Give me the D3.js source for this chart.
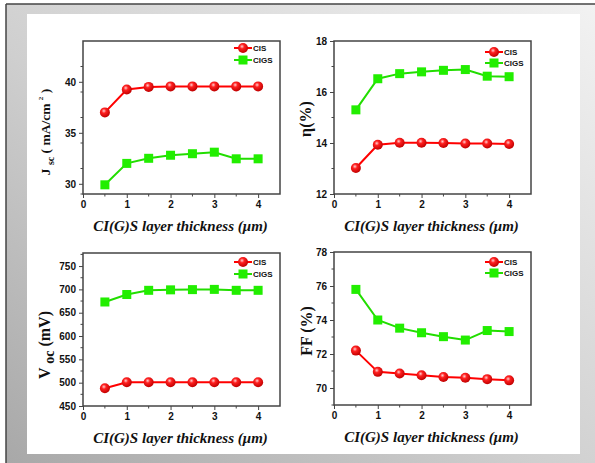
<!DOCTYPE html>
<html lang="en">
<head>
<meta charset="UTF-8">
<title>CIS / CIGS layer thickness</title>
<script src="https://cdnjs.cloudflare.com/ajax/libs/d3/7.8.5/d3.min.js"></script>
<style>
    body { margin: 0; padding: 0; background: #fff; }
    svg { display: block; }
    .tick text { font-family: Arial, "Liberation Sans", sans-serif; font-weight: bold; font-size: 10px; fill: #111; }
    .axis path, .axis line { stroke: #444; }
    .xtitle { font-family: "Liberation Serif", "DejaVu Serif", serif; font-weight: bold; font-style: italic; font-size: 15px; fill: #111; }
    .ytitle { font-family: "Liberation Serif", "DejaVu Serif", serif; font-weight: bold; font-size: 16px; fill: #111; }
    .legend { font-family: Arial, "Liberation Sans", sans-serif; font-weight: bold; font-size: 8px; fill: #111; }
</style>
</head>
<body>
<div id="chart"></div>
<script>
// layer thickness (um)
const thickness = [0.5, 1, 1.5, 2, 2.5, 3, 3.5, 4];
const seriesNames = ["CIS", "CIGS"];

// Jsc (mA/cm2)
const jscCIS  = [37.0, 39.25, 39.5, 39.55, 39.55, 39.55, 39.55, 39.55];
const jscCIGS = [29.9, 32.0, 32.5, 32.8, 32.95, 33.1, 32.45, 32.45];
// efficiency (%)
const etaCIS  = [13.02, 13.93, 14.01, 14.01, 14.0, 13.98, 13.98, 13.96];
const etaCIGS = [15.3, 16.52, 16.72, 16.79, 16.85, 16.88, 16.62, 16.6];
// Voc (mV)
const vocCIS  = [488, 501, 501, 501, 501, 501, 501, 501];
const vocCIGS = [673, 689, 698, 699, 699.5, 700, 698, 698];
// FF (%)
const ffCIS  = [72.2, 70.95, 70.85, 70.75, 70.65, 70.6, 70.52, 70.45];
const ffCIGS = [75.8, 74.0, 73.52, 73.25, 73.02, 72.82, 73.38, 73.32];

const xTicks = [0, 1, 2, 3, 4];
const xTitle = "CI(G)S layer thickness (\u03bcm)";

const W = 595, H = 463;
const svg = d3.select("#chart").append("svg").attr("width", W).attr("height", H);

// background frame
const defs = svg.append("defs");
const bg = defs.append("linearGradient").attr("id", "bg")
    .attr("x1", "0%").attr("y1", "100%").attr("x2", "100%").attr("y2", "0%");
bg.append("stop").attr("offset", "0%").attr("stop-color", "#a8a8a8");
bg.append("stop").attr("offset", "45%").attr("stop-color", "#cfcfcf");
bg.append("stop").attr("offset", "100%").attr("stop-color", "#f2f2f2");
const ball = defs.append("radialGradient").attr("id", "ball")
    .attr("cx", "40%").attr("cy", "35%").attr("r", "65%");
ball.append("stop").attr("offset", "0%").attr("stop-color", "#ffd0d0");
ball.append("stop").attr("offset", "35%").attr("stop-color", "#ff2020");
ball.append("stop").attr("offset", "100%").attr("stop-color", "#c00000");

svg.append("rect").attr("x", 0).attr("y", 0).attr("width", W).attr("height", H).attr("fill", "#fff");
svg.append("rect").attr("x", 6).attr("y", 4).attr("width", W - 6).attr("height", H - 4).attr("fill", "url(#bg)");
svg.append("line").attr("x1", 6).attr("y1", 4).attr("x2", W).attr("y2", 4).attr("stroke", "#444").attr("stroke-width", 1.5);
svg.append("line").attr("x1", 6).attr("y1", 4).attr("x2", 6).attr("y2", H).attr("stroke", "#444").attr("stroke-width", 1.5);
svg.append("rect").attr("x", 27).attr("y", 14).attr("width", 553).attr("height", 440).attr("fill", "#fff");

const panels = [
    { left: 83, top: 41, yDomain: [29, 44], yTicks: [30, 35, 40], yMinor: 2.5,
      cis: jscCIS, cigs: jscCIGS, ylabel: "jsc", ylabelX: 50, ylabelY: 132, legDy: [7, 19] },
    { left: 334, top: 41, yDomain: [12, 18], yTicks: [12, 14, 16, 18], yMinor: 1,
      cis: etaCIS, cigs: etaCIGS, ylabel: "eta", ylabelX: 311, ylabelY: 119, legDy: [11, 22] },
    { left: 83, top: 253, yDomain: [450, 778], yTicks: [450, 500, 550, 600, 650, 700, 750], yMinor: 25,
      cis: vocCIS, cigs: vocCIGS, ylabel: "voc", ylabelX: 50, ylabelY: 345, legDy: [9, 21] },
    { left: 334, top: 252, yDomain: [69, 78], yTicks: [70, 72, 74, 76, 78], yMinor: 1,
      cis: ffCIS, cigs: ffCIGS, ylabel: "ff", ylabelX: 312, ylabelY: 331, legDy: [10, 21] }
];
const pw = 197, ph = 153;

panels.forEach(p => {
    const g = svg.append("g").attr("transform", `translate(${p.left},${p.top})`);
    const x = d3.scaleLinear().domain([0, 4.5]).range([0, pw]);
    const y = d3.scaleLinear().domain(p.yDomain).range([ph, 0]);

    // minor ticks
    const xMinor = d3.range(0.5, 4.5, 1);
    g.append("g").selectAll("line").data(xMinor).join("line")
        .attr("x1", d => x(d)).attr("x2", d => x(d)).attr("y1", ph).attr("y2", ph + 2.5)
        .attr("stroke", "#444");
    const yMinor = d3.range(p.yDomain[0], p.yDomain[1], p.yMinor)
        .filter(v => !p.yTicks.some(t => Math.abs(t - v) < 1e-6));
    g.append("g").selectAll("line").data(yMinor).join("line")
        .attr("x1", -2.5).attr("x2", 0).attr("y1", d => y(d)).attr("y2", d => y(d))
        .attr("stroke", "#444");

    g.append("g").attr("class", "axis").attr("transform", `translate(0,${ph})`)
        .call(d3.axisBottom(x).tickValues(xTicks).tickFormat(d3.format("d"))
            .tickSize(4).tickSizeOuter(0).tickPadding(3))
        .call(a => a.select(".domain").remove());
    g.append("g").attr("class", "axis")
        .call(d3.axisLeft(y).tickValues(p.yTicks).tickFormat(d3.format("d"))
            .tickSize(4).tickSizeOuter(0).tickPadding(3))
        .call(a => a.select(".domain").remove());

    g.append("rect").attr("width", pw).attr("height", ph)
        .attr("fill", "none").attr("stroke", "#444").attr("stroke-width", 1.5);

    const line = d3.line().x((d, i) => x(thickness[i])).y(d => y(d));
    g.append("path").datum(p.cis).attr("d", line)
        .attr("fill", "none").attr("stroke", "#ff0000").attr("stroke-width", 2);
    g.append("path").datum(p.cigs).attr("d", line)
        .attr("fill", "none").attr("stroke", "#22dd00").attr("stroke-width", 2);

    g.append("g").selectAll("rect").data(p.cigs).join("rect")
        .attr("x", (d, i) => x(thickness[i]) - 4.5).attr("y", d => y(d) - 4.5)
        .attr("width", 9).attr("height", 9).attr("fill", "#22ee00");
    g.append("g").selectAll("circle").data(p.cis).join("circle")
        .attr("cx", (d, i) => x(thickness[i])).attr("cy", d => y(d)).attr("r", 5)
        .attr("fill", "url(#ball)");

    // legend
    const lx = pw - 46;
    seriesNames.forEach((name, k) => {
        const ly = p.legDy[k];
        const color = k === 0 ? "#ff0000" : "#22dd00";
        g.append("line").attr("x1", lx).attr("x2", lx + 18).attr("y1", ly).attr("y2", ly)
            .attr("stroke", color).attr("stroke-width", 2);
        if (k === 0) {
            g.append("circle").attr("cx", lx + 9).attr("cy", ly).attr("r", 5).attr("fill", "url(#ball)");
        } else {
            g.append("rect").attr("x", lx + 4.5).attr("y", ly - 4.5).attr("width", 9).attr("height", 9)
                .attr("fill", "#22ee00");
        }
        g.append("text").attr("class", "legend").attr("x", lx + 19).attr("y", ly + 3).text(name);
    });

    // x title
    g.append("text").attr("class", "xtitle").attr("x", pw / 2 - 1).attr("y", ph + 37)
        .attr("text-anchor", "middle").text(xTitle);

    // y title
    const yt = svg.append("text").attr("class", "ytitle")
        .attr("transform", `translate(${p.ylabelX},${p.ylabelY}) rotate(-90)`)
        .attr("text-anchor", "middle");
    if (p.ylabel === "jsc") {
        yt.style("font-size", "13.5px");
        yt.append("tspan").text("J ");
        yt.append("tspan").attr("font-size", "10px").attr("dy", 4).text("sc");
        yt.append("tspan").attr("dy", -4).text(" ( mA/cm ");
        yt.append("tspan").attr("font-size", "7px").attr("dy", -7).text(" 2");
        yt.append("tspan").attr("dy", 7).text(" )");
    } else if (p.ylabel === "eta") {
        yt.text("\u03b7(%)");
    } else if (p.ylabel === "voc") {
        yt.append("tspan").text("V ");
        yt.append("tspan").attr("font-size", "14px").attr("dy", 4).text("oc");
        yt.append("tspan").attr("dy", -4).text(" (mV)");
    } else {
        yt.text("FF (%)");
    }
});
</script>
</body>
</html>
